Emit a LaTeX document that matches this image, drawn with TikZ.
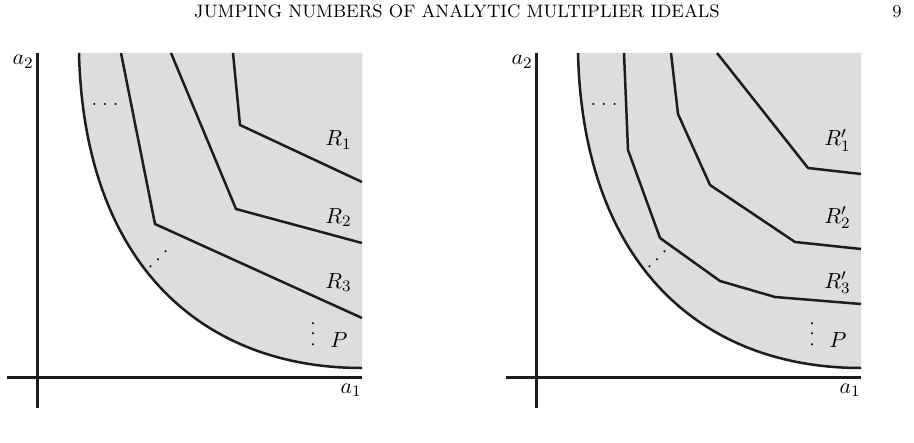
\documentclass[tikz,border=0pt]{standalone}
\begin{document}
\definecolor{panelgray}{RGB}{221,221,221}
\definecolor{inkblack}{RGB}{28,28,28}
\begin{tikzpicture}[x=0.5pt,y=-0.5pt,
  axisline/.style={line width=1.5pt, draw=inkblack},
  regline/.style={line width=1.25pt, draw=inkblack, line join=miter},
  lbl/.style={inner sep=0pt, anchor=base west, font=\fontsize{10.8}{13}\selectfont},
  axlbl/.style={inner sep=0pt, anchor=base east, font=\fontsize{10.8}{13}\selectfont},
  dotsl/.style={inner sep=0pt, anchor=center},
  headtxt/.style={inner sep=0pt, font=\fontsize{9}{11}\selectfont}
]
\useasboundingbox (0,0) rectangle (914,443);
\node[headtxt, anchor=base] (head) at (457,18) {JUMPING NUMBERS OF ANALYTIC MULTIPLIER IDEALS};
\node[headtxt, anchor=base east] (page) at (902,18) {9};

% left panel
\begin{scope}
  \fill[panelgray] (79,53) .. controls (84,262) and (200,368) .. (362,368) -- (362,53) -- cycle;
  \draw[regline] (79,53) .. controls (84,262) and (200,368) .. (362,368);
  \draw[regline] (121,53) -- (155,224) -- (362,318);
  \draw[regline] (171,53) -- (236,209) -- (362,243);
  \draw[regline] (233,53) -- (240,125) -- (362,182);
  \coordinate (LyT) at (37,53);
  \coordinate (LyB) at (37,408);
  \coordinate (LxL) at (7,377);
  \coordinate (LxR) at (362,377);
  \draw[axisline] (LyT) -- (LyB);
  \draw[axisline] (LxL) -- (LxR);
  \node[axlbl] (La2) at (34,65) {$a_2$};
  \node[axlbl] (La1) at (362,393) {$a_1$};
  \node[lbl] (LR1) at (325,146) {$R_1$};
  \node[lbl] (LR2) at (325,223) {$R_2$};
  \node[lbl] (LR3) at (325,288) {$R_3$};
  \node[lbl] (LP) at (330,347) {$P$};
  \node[dotsl] (Lhd) at (105,104) {.\hspace{2.5pt}.\hspace{2.5pt}.};
  \node[dotsl, rotate=45] (Ldd) at (158,259.5) {.\hspace{2.5pt}.\hspace{2.5pt}.};
  \node[dotsl, rotate=90] (Lvd) at (313,334) {.\hspace{2.5pt}.\hspace{2.5pt}.};
\end{scope}

% right panel
\begin{scope}[shift={(499,0)}]
  \fill[panelgray] (79,53) .. controls (84,262) and (200,368) .. (362,368) -- (362,53) -- cycle;
  \draw[regline] (79,53) .. controls (84,262) and (200,368) .. (362,368);
  \draw[regline] (125,53) -- (129,150) -- (161,238) -- (221,281) -- (276,297) -- (362,304);
  \draw[regline] (172,53) -- (179,114) -- (211,185) -- (296,242) -- (362,249);
  \draw[regline] (218,53) -- (309,168) -- (362,174);
  \coordinate (RyT) at (37,53);
  \coordinate (RyB) at (37,408);
  \coordinate (RxL) at (7,377);
  \coordinate (RxR) at (362,377);
  \draw[axisline] (RyT) -- (RyB);
  \draw[axisline] (RxL) -- (RxR);
  \node[axlbl] (Ra2) at (34,65) {$a_2$};
  \node[axlbl] (Ra1) at (362,393) {$a_1$};
  \node[lbl] (RR1) at (325,146) {$R'_1$};
  \node[lbl] (RR2) at (325,223) {$R'_2$};
  \node[lbl] (RR3) at (325,288) {$R'_3$};
  \node[lbl] (RP) at (330,347) {$P$};
  \node[dotsl] (Rhd) at (105,104) {.\hspace{2.5pt}.\hspace{2.5pt}.};
  \node[dotsl, rotate=45] (Rdd) at (158,259.5) {.\hspace{2.5pt}.\hspace{2.5pt}.};
  \node[dotsl, rotate=90] (Rvd) at (313,334) {.\hspace{2.5pt}.\hspace{2.5pt}.};
\end{scope}
\end{tikzpicture}
\end{document}
